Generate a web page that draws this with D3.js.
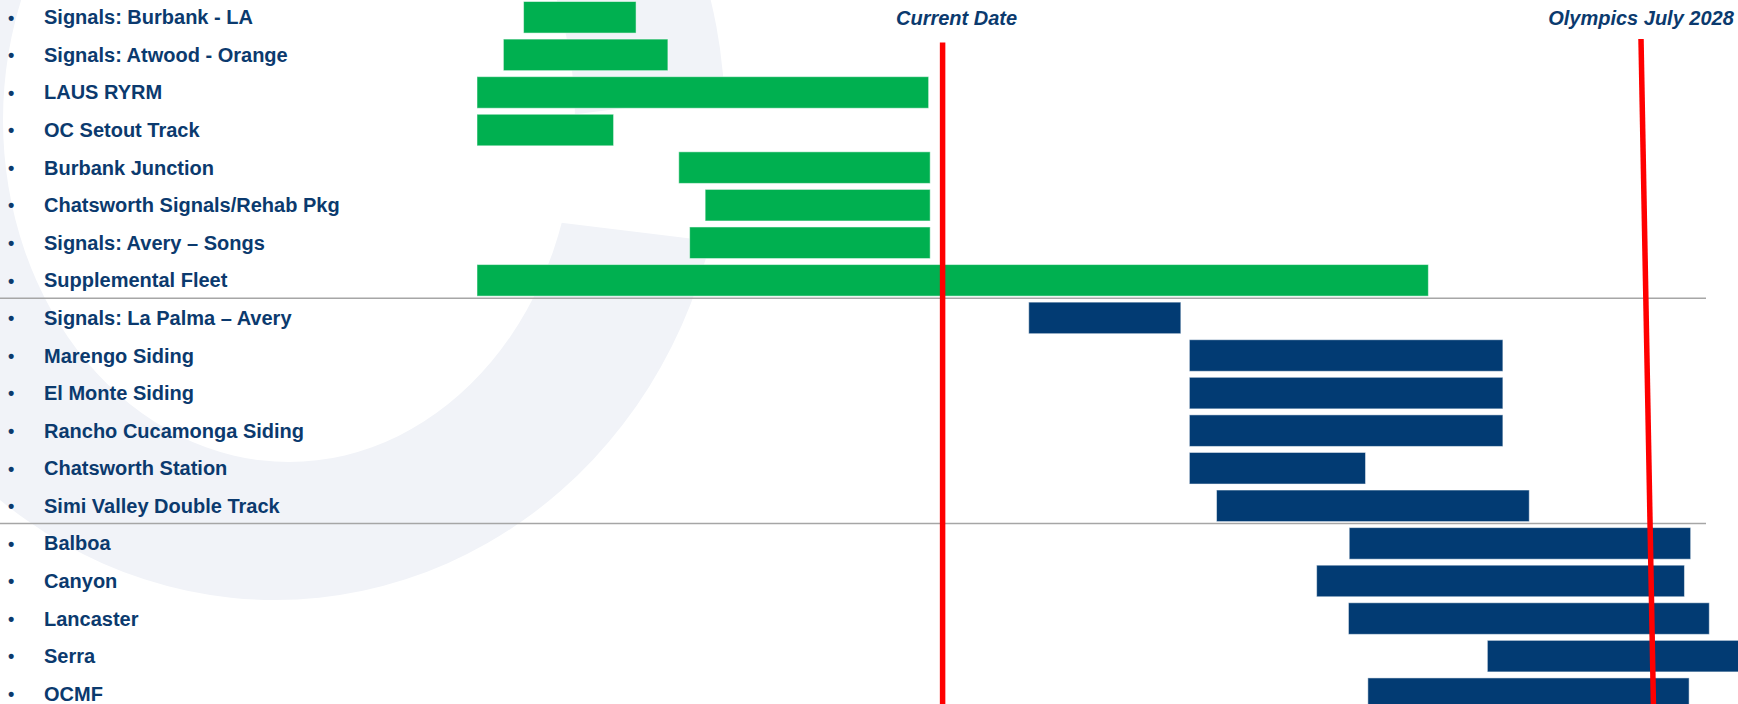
<!DOCTYPE html>
<html>
<head>
<meta charset="utf-8">
<script src="https://cdn.jsdelivr.net/npm/d3@7"></script>
<style>
  html, body { margin: 0; padding: 0; background: #fff; }
  svg { display: block; font-family: Arial, "Liberation Sans", sans-serif; }
</style>
</head>
<body>
<svg id="chart"></svg>
<script>
// Project names, top to bottom
const projects = [
    "Signals: Burbank - LA",
    "Signals: Atwood - Orange",
    "LAUS RYRM",
    "OC Setout Track",
    "Burbank Junction",
    "Chatsworth Signals/Rehab Pkg",
    "Signals: Avery \u2013 Songs",
    "Supplemental Fleet",
    "Signals: La Palma \u2013 Avery",
    "Marengo Siding",
    "El Monte Siding",
    "Rancho Cucamonga Siding",
    "Chatsworth Station",
    "Simi Valley Double Track",
    "Balboa",
    "Canyon",
    "Lancaster",
    "Serra",
    "OCMF"
];

// Start / end of each bar, in decimal years
const startYear = [2021.30, 2021.17, 2021.00, 2021.00, 2022.30, 2022.47, 2022.37, 2021.00,
    2024.555, 2025.59, 2025.59, 2025.59, 2025.59, 2025.765,
    2026.62, 2026.41, 2026.615, 2027.51, 2026.74];
const endYear = [2022.025, 2022.23, 2023.91, 2021.88, 2023.92, 2023.92, 2023.92, 2027.13,
    2025.535, 2027.61, 2027.61, 2027.61, 2026.725, 2027.78,
    2028.82, 2028.78, 2028.94, 2029.30, 2028.81];

// Which projects are complete (green) or still to come (blue)
const status = ["done", "done", "done", "done", "done", "done", "done", "done",
    "planned", "planned", "planned", "planned", "planned", "planned",
    "planned", "planned", "planned", "planned", "planned"];

// Groups start at these rows (a rule is drawn above them)
const groupStarts = ["Signals: La Palma \u2013 Avery", "Balboa"];

// Vertical milestone lines (top value / bottom value, the olympics line leans a bit)
const markerNames = ["Current Date", "Olympics July 2028"];
const markerTop = [2024.0, 2028.50];
const markerBottom = [2024.0, 2028.58];

const w = 1738;
const h = 704;

const navy = "#0b3a6e";
const colors = { done: "#00b050", planned: "#023b73" };

let svg = d3.select("#chart")
    .attr("width", w)
    .attr("height", h);

// Faint logo watermark in the background (a big open ring)
const ellipsePath = (cx, cy, rx, ry) =>
    `M${cx - rx},${cy} a${rx},${ry} 0 1,0 ${2 * rx},0 a${rx},${ry} 0 1,0 ${-2 * rx},0 Z`;

let mark = svg.append("g").attr("class", "watermark");
mark.append("path")
    .attr("d", ellipsePath(275, 120, 450, 480) + ellipsePath(289, 120, 286, 342))
    .attr("fill-rule", "evenodd")
    .attr("fill", "#f1f3f8");
// the opening of the ring
mark.append("path")
    .attr("d", "M450,130 L800,86 L800,252 L450,209 Z")
    .attr("fill", "#fff");

// Time scale
let x = d3.scaleLinear()
    .domain([2021, 2029.125])
    .range([477, w]);

// One row per project
let y = d3.scaleBand()
    .domain(projects)
    .range([-1.5, 712.5])
    .paddingInner(0.16)
    .paddingOuter(0.08);

// Group separators
svg.append("g")
    .selectAll("line")
    .data(groupStarts)
    .enter()
    .append("line")
    .attr("x1", 0)
    .attr("x2", 1706)
    .attr("y1", d => y(d) - y.step() * 0.08 - 1)
    .attr("y2", d => y(d) - y.step() * 0.08 - 1)
    .attr("stroke", "#a6a6a6")
    .attr("stroke-width", 1.5);

// Labels with bullets
let labels = svg.append("g")
    .selectAll("g")
    .data(projects)
    .enter()
    .append("g")
    .attr("transform", d => `translate(0,${y(d) + y.bandwidth() / 2})`);

labels.append("text")
    .attr("x", 8)
    .attr("dy", "0.35em")
    .attr("fill", navy)
    .style("font-size", "18px")
    .style("font-weight", "bold")
    .text("\u2022");

labels.append("text")
    .attr("x", 44)
    .attr("dy", "0.35em")
    .attr("fill", navy)
    .style("font-size", "20px")
    .style("font-weight", "bold")
    .text(d => d);

// Bars
svg.append("g")
    .selectAll("rect")
    .data(projects)
    .enter()
    .append("rect")
    .attr("x", (d, i) => x(startYear[i]))
    .attr("y", d => y(d))
    .attr("width", (d, i) => x(endYear[i]) - x(startYear[i]))
    .attr("height", y.bandwidth())
    .attr("fill", (d, i) => colors[status[i]])
    .attr("stroke", "#fff")
    .attr("stroke-opacity", 0.5)
    .attr("stroke-width", 1);

// Milestone lines and titles
let markers = svg.append("g")
    .selectAll("g")
    .data(markerNames)
    .enter()
    .append("g");

markers.append("line")
    .attr("x1", (d, i) => x(markerTop[i]))
    .attr("x2", (d, i) => x(markerBottom[i]))
    .attr("y1", (d, i) => i == 0 ? 42.5 : 39)
    .attr("y2", h)
    .attr("stroke", "#ff0000")
    .attr("stroke-width", 5.5);

markers.append("text")
    .attr("x", (d, i) => x(markerTop[i]) + (i == 0 ? 14 : 0))
    .attr("y", 25)
    .attr("text-anchor", "middle")
    .attr("fill", navy)
    .style("font-size", "20px")
    .style("font-weight", "bold")
    .style("font-style", "italic")
    .text(d => d);
</script>
</body>
</html>
